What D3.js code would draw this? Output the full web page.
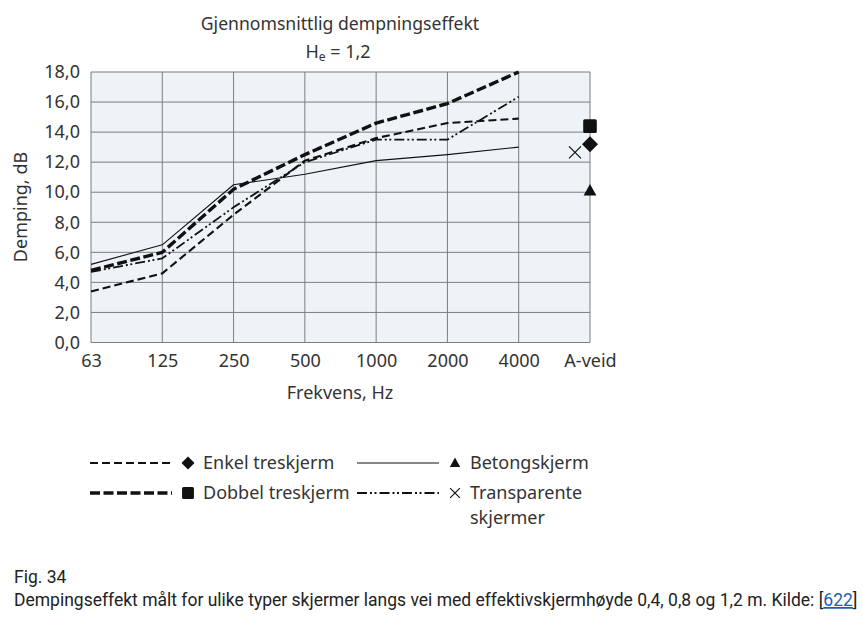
<!DOCTYPE html>
<html><head><meta charset="utf-8">
<script src="https://cdn.jsdelivr.net/npm/d3@7"></script>
<style>
html,body{margin:0;padding:0;background:#fff;}
svg{display:block;}
</style>
</head><body>
<svg id="chart" width="863" height="619"></svg>
<script>
// ---- data ----
const categories = ["63","125","250","500","1000","2000","4000","A-veid"];
const yTicks = [0,2,4,6,8,10,12,14,16,18];
const seriesNames = ["Enkel treskjerm","Dobbel treskjerm","Betongskjerm","Transparente skjermer"];
const enkel       = [3.4, 4.6, 8.5, 12.1, 13.6, 14.6, 14.9];
const dobbel      = [4.8, 6.0, 10.2, 12.5, 14.6, 15.9, 18.0];
const betong      = [5.2, 6.5, 10.5, 11.2, 12.1, 12.5, 13.0];
const transparent = [4.7, 5.6, 9.0, 12.0, 13.5, 13.5, 16.35];
const aVeid       = [13.2, 14.4, 10.1, 12.65]; // same order as seriesNames

const title1 = "Gjennomsnittlig dempningseffekt";
const xTitle = "Frekvens, Hz";
const yTitle = "Demping, dB";
const caption1 = "Fig. 34";
const caption2 = "Dempingseffekt målt for ulike typer skjermer langs vei med effektivskjermhøyde 0,4, 0,8 og 1,2 m. Kilde: [";
const captionLink = "622";

(function(){
// ---- styles ----
const styles = [
  {dash:"8,4", w:2.1, marker:"diamond"},
  {dash:"10,3.5", w:3.4, marker:"square"},
  {dash:null, w:1.1, marker:"triangle"},
  {dash:"10,3,2,2.5,2,3", w:1.8, marker:"cross"}
];
const seriesData = [enkel, dobbel, betong, transparent];

const svg = d3.select("#chart");
const font = "'Noto Sans', 'Open Sans', sans-serif";
const textColor = "#333";
const fs = 18;

const pL = 91, pR = 590, pT = 72, pB = 342.5;
const x = d3.scalePoint().domain(categories).range([pL, pR]).padding(0);
const y = d3.scaleLinear().domain([0, 18]).range([pB, pT]);

// plot background
svg.append("rect").attr("x", pL).attr("y", pT).attr("width", pR-pL).attr("height", pB-pT)
  .attr("fill", "#edf3f7");

// grid
const grid = svg.append("g");
grid.selectAll("line.h").data(yTicks).join("line")
  .attr("x1", pL).attr("x2", pR).attr("y1", d=>y(d)).attr("y2", d=>y(d))
  .attr("stroke", "#7d7d7d").attr("stroke-width", 1);
grid.selectAll("line.v").data(categories).join("line")
  .attr("y1", pT).attr("y2", pB).attr("x1", d=>x(d)).attr("x2", d=>x(d))
  .attr("stroke", "#7d7d7d").attr("stroke-width", 1);

// axes (labels only)
const yAxis = d3.axisLeft(y).tickValues(yTicks).tickSize(0).tickPadding(11)
  .tickFormat(d => d3.format(".1f")(d).replace(".", ","));
const ga = svg.append("g").attr("transform", `translate(${pL},0)`).call(yAxis);
ga.select(".domain").remove();
ga.selectAll("text").attr("font-family", font).attr("font-size", fs).attr("fill", textColor);

const xAxis = d3.axisBottom(x).tickSize(0).tickPadding(12);
const gx = svg.append("g").attr("transform", `translate(0,${pB})`).call(xAxis);
gx.select(".domain").remove();
gx.selectAll("text").attr("font-family", font).attr("font-size", fs).attr("fill", textColor);

// lines
const line = d3.line().x((d,i)=>x(categories[i])).y(d=>y(d));
seriesData.forEach((s, k) => {
  svg.append("path").datum(s).attr("d", line)
    .attr("fill", "none").attr("stroke", "#111")
    .attr("stroke-width", styles[k].w)
    .attr("stroke-dasharray", styles[k].dash)
    .attr("stroke-linejoin", "round");
});

// markers
function drawMarker(g, type, cx, cy, s) {
  if (type === "diamond") {
    g.append("path").attr("d", `M${cx},${cy-s}L${cx+s},${cy}L${cx},${cy+s}L${cx-s},${cy}Z`).attr("fill", "#111");
  } else if (type === "square") {
    g.append("rect").attr("x", cx-s*0.85).attr("y", cy-s*0.85).attr("width", s*1.7).attr("height", s*1.7).attr("rx", 1.5).attr("fill", "#111");
  } else if (type === "triangle") {
    g.append("path").attr("d", `M${cx},${cy-s*0.85}L${cx+s*0.8},${cy+s*0.6}L${cx-s*0.8},${cy+s*0.6}Z`).attr("fill", "#111");
  } else if (type === "cross") {
    g.append("path").attr("d", `M${cx-s*0.75},${cy-s*0.75}L${cx+s*0.75},${cy+s*0.75}M${cx+s*0.75},${cy-s*0.75}L${cx-s*0.75},${cy+s*0.75}`)
      .attr("stroke", "#111").attr("stroke-width", 1.2).attr("fill", "none");
  }
}
const mg = svg.append("g");
const xA = x("A-veid");
aVeid.forEach((v, k) => {
  const off = styles[k].marker === "cross" ? -15 : 0;
  drawMarker(mg, styles[k].marker, xA + off, y(v), 8);
});

// titles
svg.append("text").attr("x", 340).attr("y", 30).attr("text-anchor", "middle")
  .attr("font-family", font).attr("font-size", 17.6).attr("fill", textColor).text(title1);
const t2 = svg.append("text").attr("x", 338).attr("y", 58).attr("text-anchor", "middle")
  .attr("font-family", font).attr("font-size", 18).attr("fill", textColor);
t2.append("tspan").text("H");
t2.append("tspan").attr("font-size", 12).attr("dy", 3).text("e");
t2.append("tspan").attr("dy", -3).text(" = 1,2");

svg.append("text").attr("x", 340).attr("y", 399).attr("text-anchor", "middle")
  .attr("font-family", font).attr("font-size", fs).attr("fill", textColor).text(xTitle);
svg.append("text").attr("transform", "translate(27,207) rotate(-90)").attr("text-anchor", "middle")
  .attr("font-family", font).attr("font-size", fs).attr("fill", textColor).text(yTitle);

// legend
const legPos = [
  {lx:90, ly:463}, {lx:90, ly:493}, {lx:357, ly:463}, {lx:357, ly:493}
];
const lg = svg.append("g");
seriesNames.forEach((name, k) => {
  const p = legPos[k];
  lg.append("line").attr("x1", p.lx).attr("x2", p.lx+82).attr("y1", p.ly).attr("y2", p.ly)
    .attr("stroke", "#111").attr("stroke-width", styles[k].w).attr("stroke-dasharray", styles[k].dash);
  drawMarker(lg, styles[k].marker, p.lx+98, p.ly, styles[k].marker === "square" ? 7 : 6.5);
  const words = name === "Transparente skjermer" ? ["Transparente", "skjermer"] : [name];
  words.forEach((w, i) => {
    lg.append("text").attr("x", p.lx+113).attr("y", p.ly + 6 + i*25)
      .attr("font-family", font).attr("font-size", fs).attr("fill", textColor).text(w);
  });
});

// caption
const capFont = "Roboto, sans-serif";
svg.append("text").attr("x", 14).attr("y", 583).attr("font-family", capFont).attr("font-size", 17.5)
  .attr("fill", "#222").text(caption1);
const c2 = svg.append("text").attr("x", 14).attr("y", 606).attr("font-family", capFont).attr("font-size", 17.5)
  .attr("fill", "#222");
c2.append("tspan").text(caption2);
c2.append("tspan").attr("fill", "#1a5fb4").attr("text-decoration", "underline").text(captionLink);
c2.append("tspan").text("]");
})();
</script>
</body></html>
